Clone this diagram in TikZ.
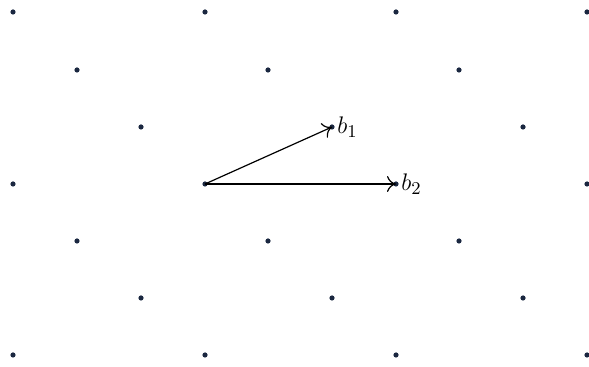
\documentclass[tikz,border=0pt]{standalone}
\usetikzlibrary{arrows.meta}
\definecolor{dotcol}{HTML}{1A2740}
\begin{document}
\begin{tikzpicture}[x=0.5pt,y=-0.5pt,
  lat/.style={circle,fill=dotcol,inner sep=0pt,minimum size=2.6pt},
  vec/.style={line width=0.6pt,-{To[length=4.5pt,width=8pt]}},
  lbl/.style={anchor=west,inner sep=1pt,font=\fontsize{13}{15}\selectfont}]
\useasboundingbox (0,0) rectangle (589,367);
\foreach \y/\xs [count=\r] in {12/{13,205,396,587},70/{77,268,459},127/{141,332,523},184/{13,205,396,587},241/{77,268,459},298/{141,332,523},355/{13,205,396,587}}{
  \foreach \x [count=\c] in \xs { \node[lat] (p\r-\c) at (\x,\y) {}; }
}
\draw[vec] (p4-2.center) -- (p3-2.center);
\draw[vec] (p4-2.center) -- (p4-3.center);
\node[lbl] (l1) at (p3-2.east) {$b_1$};
\node[lbl] (l2) at (p4-3.east) {$b_2$};
\end{tikzpicture}
\end{document}
